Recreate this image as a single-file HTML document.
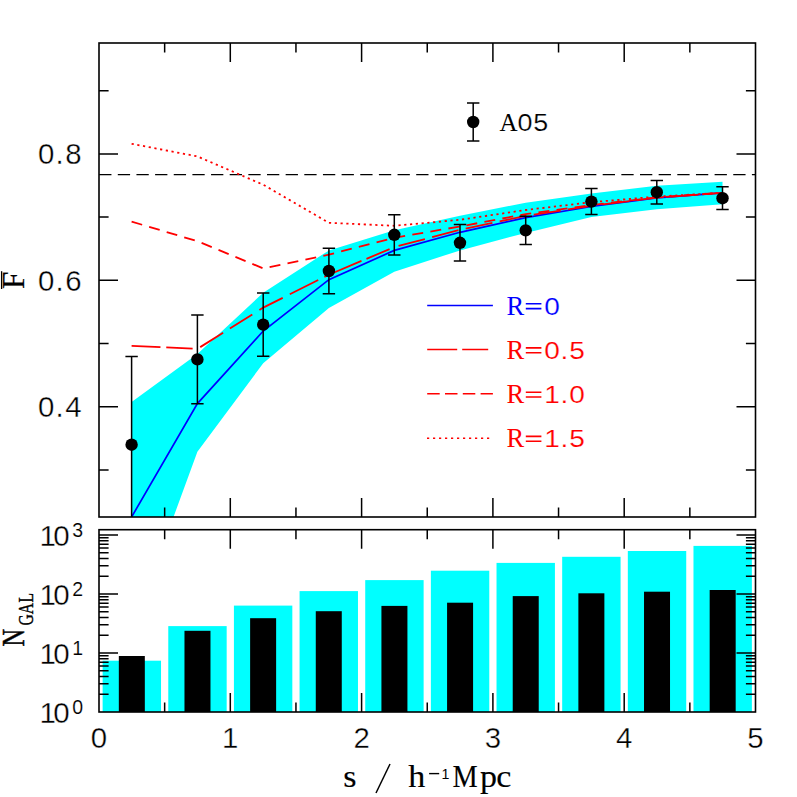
<!DOCTYPE html>
<html><head><meta charset="utf-8"><title>chart</title>
<style>html,body{margin:0;padding:0;background:#fff}svg{display:block}</style></head>
<body>
<svg width="797" height="797" viewBox="0 0 797 797">
<rect width="797" height="797" fill="#fff"/>
<defs><clipPath id="c1"><rect x="99" y="43" width="656.5" height="474"/></clipPath></defs>
<g clip-path="url(#c1)">
<polygon fill="#00ffff" points="131.6,402 197.4,354 263.2,292.7 328.9,250.4 394.3,230.3 460,215.7 525.7,202.7 591.4,193.4 656.8,185.8 722.5,181.8 722.5,204.3 656.8,209.3 591.4,217.1 525.7,232.9 460,250.4 394.3,271.7 328.9,308.1 263.2,363.2 197.4,451.7 173.5,517 131.6,517"/>
<line x1="99" y1="174.7" x2="755.5" y2="174.7" stroke="#000" stroke-width="1.3" stroke-dasharray="12.3 6.35" stroke-dashoffset="-0.15"/>
<polyline fill="none" stroke="#0000ff" stroke-width="1.7"  points="131.6,517 197.4,403.6 263.2,331 328.9,279.7 394.3,250.4 460,232.3 525.7,217.6 591.4,206.5 656.8,197.8 722.5,192.8"/>
<polyline fill="none" stroke="#ff0000" stroke-width="1.8" stroke-dasharray="28.9 5.8 26.4 8.1 27.05 7.95 26.5 8.4 26.3 7.9 31.8 6.9 40.4 5.4 25.1 9.5 27.3 7.4 27.3 7.4 27.3 7.4 27.3 7.4 27.3 7.4 27.3 7.4 27.3 7.4 27.3 7.4 27.3 7.4 27.3 7.4"  points="131.6,345.8 197.4,348.9 263.2,307.6 328.9,274.7 394.3,247.1 460,229.8 525.7,215.9 591.4,205.8 656.8,197.6 722.5,192.8"/>
<polyline fill="none" stroke="#ff0000" stroke-width="1.8" stroke-dasharray="11 7.3"  points="131.6,221.6 197.4,241.2 263.2,268.4 328.9,254.6 394.3,237.8 460,226.5 525.7,214.1 591.4,205 656.8,197.4 722.5,192.8"/>
<polyline fill="none" stroke="#ff0000" stroke-width="1.8" stroke-dasharray="2.2 3.6"  points="131.6,143.8 197.4,156.4 263.2,184.7 328.9,222.8 394.3,225.8 460,219.8 525.7,210 591.4,202.2 656.8,196.6 722.5,192.8"/>
<path d="M131.6 356.4V533M125.4 356.4h12.4M125.4 533h12.4" stroke="#000" stroke-width="1.5" fill="none"/>
<circle cx="131.6" cy="444.7" r="6.2" fill="#000"/>
<path d="M197.4 315.1V403.7M191.2 315.1h12.4M191.2 403.7h12.4" stroke="#000" stroke-width="1.5" fill="none"/>
<circle cx="197.4" cy="359.4" r="6.2" fill="#000"/>
<path d="M263.2 293V356.2M257 293h12.4M257 356.2h12.4" stroke="#000" stroke-width="1.5" fill="none"/>
<circle cx="263.2" cy="324.6" r="6.2" fill="#000"/>
<path d="M328.9 248.2V293.8M322.7 248.2h12.4M322.7 293.8h12.4" stroke="#000" stroke-width="1.5" fill="none"/>
<circle cx="328.9" cy="271" r="6.2" fill="#000"/>
<path d="M394.3 214.7V254.9M388.1 214.7h12.4M388.1 254.9h12.4" stroke="#000" stroke-width="1.5" fill="none"/>
<circle cx="394.3" cy="234.8" r="6.2" fill="#000"/>
<path d="M460 224.6V261M453.8 224.6h12.4M453.8 261h12.4" stroke="#000" stroke-width="1.5" fill="none"/>
<circle cx="460" cy="242.8" r="6.2" fill="#000"/>
<path d="M525.7 216.2V244.6M519.5 216.2h12.4M519.5 244.6h12.4" stroke="#000" stroke-width="1.5" fill="none"/>
<circle cx="525.7" cy="230.4" r="6.2" fill="#000"/>
<path d="M591.4 188.6V214.6M585.2 188.6h12.4M585.2 214.6h12.4" stroke="#000" stroke-width="1.5" fill="none"/>
<circle cx="591.4" cy="201.6" r="6.2" fill="#000"/>
<path d="M656.8 180.4V204M650.6 180.4h12.4M650.6 204h12.4" stroke="#000" stroke-width="1.5" fill="none"/>
<circle cx="656.8" cy="192.2" r="6.2" fill="#000"/>
<path d="M722.5 186.8V209.6M716.3 186.8h12.4M716.3 209.6h12.4" stroke="#000" stroke-width="1.5" fill="none"/>
<circle cx="722.5" cy="198.2" r="6.2" fill="#000"/>
</g>
<path d="M473.2 103V140.9M467 103h12.4M467 140.9h12.4" stroke="#000" stroke-width="1.5" fill="none"/>
<circle cx="473.2" cy="122" r="6.2" fill="#000"/>
<line x1="427.2" y1="305.4" x2="492.9" y2="305.4" stroke="#0000ff" stroke-width="1.5"/>
<line x1="427.2" y1="349.5" x2="492.9" y2="349.5" stroke="#ff0000" stroke-width="1.5" stroke-dasharray="30 5 26 10"/>
<line x1="427.2" y1="393.8" x2="492.9" y2="393.8" stroke="#ff0000" stroke-width="1.5" stroke-dasharray="12.5 5.3"/>
<line x1="427.0" y1="438.3" x2="489.5" y2="438.3" stroke="#ff0000" stroke-width="1.6" stroke-dasharray="2.2 3.8"/>
<rect x="102.625" y="660.7" width="58.4" height="51.3" fill="#00ffff"/>
<rect x="168.275" y="626.1" width="58.4" height="85.9" fill="#00ffff"/>
<rect x="233.925" y="605.6" width="58.4" height="106.4" fill="#00ffff"/>
<rect x="299.575" y="591.1" width="58.4" height="120.9" fill="#00ffff"/>
<rect x="365.225" y="580.1" width="58.4" height="131.9" fill="#00ffff"/>
<rect x="430.875" y="570.7" width="58.4" height="141.3" fill="#00ffff"/>
<rect x="496.525" y="562.9" width="58.4" height="149.1" fill="#00ffff"/>
<rect x="562.175" y="556.8" width="58.4" height="155.2" fill="#00ffff"/>
<rect x="627.825" y="551" width="58.4" height="161" fill="#00ffff"/>
<rect x="693.475" y="545.9" width="58.4" height="166.1" fill="#00ffff"/>
<rect x="118.825" y="656" width="26" height="56" fill="#000"/>
<rect x="184.475" y="630.8" width="26" height="81.2" fill="#000"/>
<rect x="250.125" y="618.2" width="26" height="93.8" fill="#000"/>
<rect x="315.775" y="611.2" width="26" height="100.8" fill="#000"/>
<rect x="381.425" y="605.9" width="26" height="106.1" fill="#000"/>
<rect x="447.075" y="602.7" width="26" height="109.3" fill="#000"/>
<rect x="512.725" y="596.1" width="26" height="115.9" fill="#000"/>
<rect x="578.375" y="593.3" width="26" height="118.7" fill="#000"/>
<rect x="644.025" y="591.7" width="26" height="120.3" fill="#000"/>
<rect x="709.675" y="590" width="26" height="122" fill="#000"/>
<path d="M164.65 43v9.6M164.65 517v-9.6M164.65 529.7v9.6M164.65 712v-9.6M230.3 43v19M230.3 517v-19M230.3 529.7v19M230.3 712v-19M295.95 43v9.6M295.95 517v-9.6M295.95 529.7v9.6M295.95 712v-9.6M361.6 43v19M361.6 517v-19M361.6 529.7v19M361.6 712v-19M427.25 43v9.6M427.25 517v-9.6M427.25 529.7v9.6M427.25 712v-9.6M492.9 43v19M492.9 517v-19M492.9 529.7v19M492.9 712v-19M558.55 43v9.6M558.55 517v-9.6M558.55 529.7v9.6M558.55 712v-9.6M624.2 43v19M624.2 517v-19M624.2 529.7v19M624.2 712v-19M689.85 43v9.6M689.85 517v-9.6M689.85 529.7v9.6M689.85 712v-9.6M99 469.9h9.6M755.5 469.9h-9.6M99 406.7h19M755.5 406.7h-19M99 343.5h9.6M755.5 343.5h-9.6M99 280.3h19M755.5 280.3h-19M99 217.1h9.6M755.5 217.1h-9.6M99 153.9h19M755.5 153.9h-19M99 90.7h9.6M755.5 90.7h-9.6M99 694.239h9.6M755.5 694.239h-9.6M99 683.85h9.6M755.5 683.85h-9.6M99 676.478h9.6M755.5 676.478h-9.6M99 670.761h9.6M755.5 670.761h-9.6M99 666.089h9.6M755.5 666.089h-9.6M99 662.139h9.6M755.5 662.139h-9.6M99 658.718h9.6M755.5 658.718h-9.6M99 655.7h9.6M755.5 655.7h-9.6M99 653h19M755.5 653h-19M99 635.239h9.6M755.5 635.239h-9.6M99 624.85h9.6M755.5 624.85h-9.6M99 617.478h9.6M755.5 617.478h-9.6M99 611.761h9.6M755.5 611.761h-9.6M99 607.089h9.6M755.5 607.089h-9.6M99 603.139h9.6M755.5 603.139h-9.6M99 599.718h9.6M755.5 599.718h-9.6M99 596.7h9.6M755.5 596.7h-9.6M99 594h19M755.5 594h-19M99 576.239h9.6M755.5 576.239h-9.6M99 565.85h9.6M755.5 565.85h-9.6M99 558.478h9.6M755.5 558.478h-9.6M99 552.761h9.6M755.5 552.761h-9.6M99 548.089h9.6M755.5 548.089h-9.6M99 544.139h9.6M755.5 544.139h-9.6M99 540.718h9.6M755.5 540.718h-9.6M99 537.7h9.6M755.5 537.7h-9.6M99 535h19M755.5 535h-19" stroke="#000" stroke-width="1.5" fill="none"/>
<rect x="99" y="43" width="656.5" height="474" fill="none" stroke="#000" stroke-width="1.6"/>
<rect x="99" y="529.7" width="656.5" height="182.3" fill="none" stroke="#000" stroke-width="1.6"/>
<text x="37.9" y="164.1" font-family="Liberation Sans, sans-serif" font-size="29.4" textLength="43.6" stroke="#fff" stroke-width="0.35">0.8</text>
<text x="37.9" y="290.5" font-family="Liberation Sans, sans-serif" font-size="29.4" textLength="43.6" stroke="#fff" stroke-width="0.35">0.6</text>
<text x="37.9" y="416.9" font-family="Liberation Sans, sans-serif" font-size="29.4" textLength="43.6" stroke="#fff" stroke-width="0.35">0.4</text>
<text x="99" y="747.9" font-family="Liberation Sans, sans-serif" font-size="29.4" text-anchor="middle" stroke="#fff" stroke-width="0.35">0</text>
<text x="230.3" y="747.9" font-family="Liberation Sans, sans-serif" font-size="29.4" text-anchor="middle" stroke="#fff" stroke-width="0.35">1</text>
<text x="361.6" y="747.9" font-family="Liberation Sans, sans-serif" font-size="29.4" text-anchor="middle" stroke="#fff" stroke-width="0.35">2</text>
<text x="492.9" y="747.9" font-family="Liberation Sans, sans-serif" font-size="29.4" text-anchor="middle" stroke="#fff" stroke-width="0.35">3</text>
<text x="624.2" y="747.9" font-family="Liberation Sans, sans-serif" font-size="29.4" text-anchor="middle" stroke="#fff" stroke-width="0.35">4</text>
<text x="755.5" y="747.9" font-family="Liberation Sans, sans-serif" font-size="29.4" text-anchor="middle" stroke="#fff" stroke-width="0.35">5</text>
<text x="39.6" y="723.4" font-family="Liberation Sans, sans-serif" font-size="29.5" textLength="30" stroke="#fff" stroke-width="0.35">10</text>
<text x="72.2" y="714.3" font-family="Liberation Sans, sans-serif" font-size="19.5" stroke="#fff" stroke-width="0.15">0</text>
<text x="39.6" y="664.4" font-family="Liberation Sans, sans-serif" font-size="29.5" textLength="30" stroke="#fff" stroke-width="0.35">10</text>
<text x="72.2" y="655.3" font-family="Liberation Sans, sans-serif" font-size="19.5" stroke="#fff" stroke-width="0.15">1</text>
<text x="39.6" y="605.4" font-family="Liberation Sans, sans-serif" font-size="29.5" textLength="30" stroke="#fff" stroke-width="0.35">10</text>
<text x="72.2" y="596.3" font-family="Liberation Sans, sans-serif" font-size="19.5" stroke="#fff" stroke-width="0.15">2</text>
<text x="39.6" y="546.4" font-family="Liberation Sans, sans-serif" font-size="29.5" textLength="30" stroke="#fff" stroke-width="0.35">10</text>
<text x="72.2" y="537.3" font-family="Liberation Sans, sans-serif" font-size="19.5" stroke="#fff" stroke-width="0.15">3</text>
<text x="506.4" y="314.6" font-family="Liberation Serif, serif" font-size="26.5" fill="#0000ff">R</text>
<path d="M525.8 303.8h15.6M525.8 308.6h15.6" stroke="#0000ff" stroke-width="1.6" fill="none"/>
<g transform="translate(0 314.6) scale(1.15 1)" fill="#0000ff">
<text x="473.304" y="0" font-family="Liberation Sans, sans-serif" font-size="24.4" stroke="#fff" stroke-width="0.2">0</text>
</g>
<text x="506.4" y="358.7" font-family="Liberation Serif, serif" font-size="26.5" fill="#ff0000">R</text>
<path d="M525.8 347.9h15.6M525.8 352.7h15.6" stroke="#ff0000" stroke-width="1.6" fill="none"/>
<g transform="translate(0 358.7) scale(1.15 1)" fill="#ff0000">
<text x="473.304 487.391 494.957" y="0" font-family="Liberation Sans, sans-serif" font-size="24.4" stroke="#fff" stroke-width="0.2">0.5</text>
</g>
<text x="506.4" y="403" font-family="Liberation Serif, serif" font-size="26.5" fill="#ff0000">R</text>
<path d="M525.8 392.2h15.6M525.8 397h15.6" stroke="#ff0000" stroke-width="1.6" fill="none"/>
<g transform="translate(0 403) scale(1.15 1)" fill="#ff0000">
<text x="473.304 487.391 494.957" y="0" font-family="Liberation Sans, sans-serif" font-size="24.4" stroke="#fff" stroke-width="0.2">1.0</text>
</g>
<text x="506.4" y="447.2" font-family="Liberation Serif, serif" font-size="26.5" fill="#ff0000">R</text>
<path d="M525.8 436.4h15.6M525.8 441.2h15.6" stroke="#ff0000" stroke-width="1.6" fill="none"/>
<g transform="translate(0 447.2) scale(1.15 1)" fill="#ff0000">
<text x="473.304 487.391 494.957" y="0" font-family="Liberation Sans, sans-serif" font-size="24.4" stroke="#fff" stroke-width="0.2">1.5</text>
</g>
<text x="499.6" y="130.8" font-family="Liberation Serif, serif" font-size="25">A</text>
<g transform="translate(0 130.8) scale(1.15 1)"><text x="450.087 463.652" y="0" font-family="Liberation Sans, sans-serif" font-size="23.4" stroke="#fff" stroke-width="0.2">05</text></g>
<g transform="translate(0 787.2) scale(1.08 1)"><text x="317.87 378.056 444.444 459.537" y="0" font-family="Liberation Serif, serif" font-size="31.5" stroke="#000" stroke-width="0.15">shpc</text></g>
<g transform="translate(452.6 787.2) scale(0.9 1)"><text x="0" y="0" font-family="Liberation Serif, serif" font-size="31.5" stroke="#000" stroke-width="0.15">M</text></g>
<line x1="376" y1="793" x2="390" y2="764" stroke="#000" stroke-width="1.5"/>
<line x1="429.1" y1="773.6" x2="439.2" y2="773.6" stroke="#000" stroke-width="1.4"/>
<text x="441.6" y="778.9" font-family="Liberation Sans, sans-serif" font-size="14.2" fill="#000">1</text>
<g transform="translate(23.8 289) rotate(-90)"><text x="0" y="0" font-family="Liberation Serif, serif" font-size="31.5" stroke="#000" stroke-width="0.2">F</text><line x1="0" y1="-22.2" x2="17.8" y2="-22.2" stroke="#000" stroke-width="1.3"/></g>
<g transform="translate(23.8 646.4) rotate(-90) scale(0.78 1)"><text x="0" y="0" font-family="Liberation Serif, serif" font-size="31.5" stroke="#000" stroke-width="0.5">N</text></g>
<g transform="translate(33.2 625.6) rotate(-90) scale(0.74 1)"><text x="0 15.5 31.2" y="0" font-family="Liberation Serif, serif" font-size="21" stroke="#000" stroke-width="0.4">GAL</text></g>
</svg>
</body></html>
